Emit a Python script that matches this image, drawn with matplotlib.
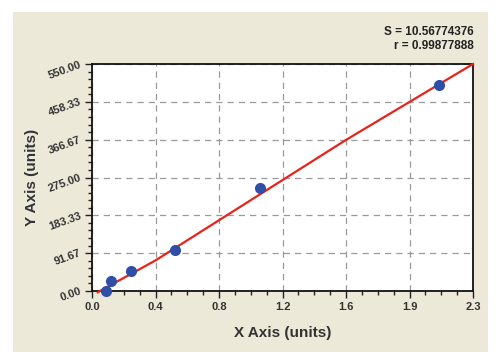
import numpy as np
import matplotlib
matplotlib.use("Agg")
import matplotlib.pyplot as plt
from matplotlib.patches import Rectangle
from matplotlib.ticker import AutoMinorLocator

plt.rcParams["font.family"] = ["Liberation Sans", "DejaVu Sans"]

# ─── data ────────────────────────────────────────────────────────────────────
x_points = [0.088, 0.116, 0.237, 0.506, 1.029, 2.12]
y_points = [0.0, 24.0, 48.5, 98.6, 249.6, 500.0]

fit_x = [0.035, 0.388, 1.553, 2.33]
fit_y = [-3.0, 74.0, 366.0, 550.0]

x_max = 2.33
y_max = 550.0
x_tick_labels = ["0.0", "0.4", "0.8", "1.2", "1.6", "1.9", "2.3"]
y_tick_labels = ["0.00", "91.67", "183.33", "275.00", "366.67", "458.33", "550.00"]

stat_s = "S = 10.56774376"
stat_r = "r = 0.99877888"

# ─── figure ──────────────────────────────────────────────────────────────────
fig = plt.figure(figsize=(5.04, 3.56), dpi=100)
fig.patch.set_facecolor("white")
fig.patches.append(Rectangle((13 / 504, 1 - 352 / 356), 475 / 504, 340 / 356,
                             transform=fig.transFigure, facecolor="#ece9d8",
                             edgecolor="none", zorder=-1))

ax = fig.add_axes([92 / 504, 1 - 291 / 356, 381 / 504, 227 / 356])
ax.set_zorder(1)
ax.set_facecolor("white")

ax.plot(fit_x, fit_y, color="#e8231a", linewidth=1.6, zorder=3, clip_on=False)
ax.plot(x_points, y_points, "o", color="#2f4ea6", markersize=8,
        markeredgewidth=0, zorder=4, clip_on=False)

ax.set_xlim(0, x_max)
ax.set_ylim(0, y_max)
ax.set_xticks(np.linspace(0, x_max, len(x_tick_labels)))
ax.set_xticklabels(x_tick_labels)
ax.set_yticks(np.linspace(0, y_max, len(y_tick_labels)))
ax.set_yticklabels(y_tick_labels, rotation=20, rotation_mode="anchor",
                   ha="right", va="center")
ax.xaxis.set_minor_locator(AutoMinorLocator(4))
ax.yaxis.set_minor_locator(AutoMinorLocator(5))

for lbl in ax.get_xticklabels() + ax.get_yticklabels():
    lbl.set_fontweight("bold")
    lbl.set_fontsize(8)
    lbl.set_color("#333333")

ax.tick_params(which="major", direction="out", length=5, width=1, color="#222222", pad=3)
ax.tick_params(which="minor", direction="out", length=3, width=1, color="#222222")
ax.tick_params(axis="y", which="major", pad=3)

ax.grid(True, which="major", linestyle=(0, (5, 4)), color="#9a9a9a", linewidth=0.9)
ax.set_axisbelow(True)
for sp in ax.spines.values():
    sp.set_linewidth(1.3)
    sp.set_color("#111111")

ax.set_xlabel("X Axis (units)", fontsize=11, fontweight="bold", color="#333333", labelpad=10)
ax.set_ylabel("Y Axis (units)", fontsize=11, fontweight="bold", color="#333333", labelpad=6)

fig.text(474 / 504, 1 - 32 / 356, stat_s, ha="right", va="center",
         fontsize=8.5, fontweight="bold", color="#222222")
fig.text(474 / 504, 1 - 46 / 356, stat_r, ha="right", va="center",
         fontsize=8.5, fontweight="bold", color="#222222")

fig.savefig("out.png", dpi=100, facecolor=fig.get_facecolor())
